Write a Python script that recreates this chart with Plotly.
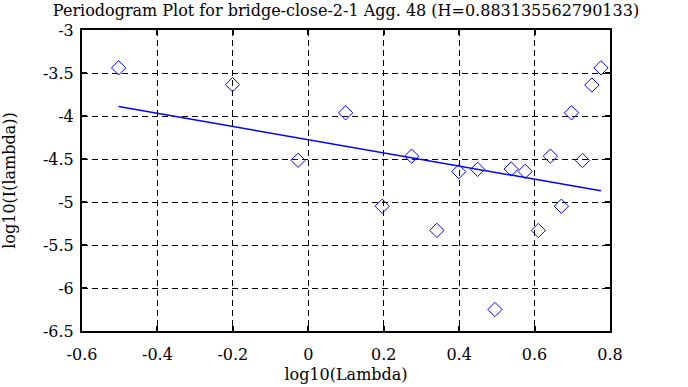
import plotly.graph_objects as go

# Periodogram points (log10 frequency vs log10 periodogram)
log_lambda = [-0.503, -0.201, -0.027, 0.099, 0.196, 0.274, 0.341, 0.399, 0.449, 0.495,
              0.538, 0.575, 0.610, 0.642, 0.671, 0.698, 0.727, 0.752, 0.776]
log_I = [-3.44, -3.635, -4.515, -3.963, -5.049, -4.467, -5.33, -4.647, -4.62, -6.25,
         -4.616, -4.644, -5.331, -4.467, -5.049, -3.963, -4.517, -3.64, -3.44]

# Fitted regression line endpoints
fit_x = [-0.503, 0.776]
fit_y = [-3.89, -4.87]

x_ticks = [-0.6, -0.4, -0.2, 0, 0.2, 0.4, 0.6, 0.8]
x_tick_text = ["-0.6", "-0.4", "-0.2", "0", "0.2", "0.4", "0.6", "0.8"]
y_ticks = [-6.5, -6, -5.5, -5, -4.5, -4, -3.5, -3]
y_tick_text = ["-6.5", "-6", "-5.5", "-5", "-4.5", "-4", "-3.5", "-3"]

title_text = "Periodogram Plot for bridge-close-2-1 Agg. 48 (H=0.883135562790133)"

font_family = "DejaVu Serif, Liberation Serif, serif"
fsize = 16

fig = go.Figure()
fig.add_trace(go.Scatter(
    x=log_lambda, y=log_I, mode="markers",
    marker=dict(symbol="diamond-open", size=11, color="#0000ff", line=dict(width=1, color="#0000ff")),
    showlegend=False, hoverinfo="skip"))
fig.add_trace(go.Scatter(
    x=fit_x, y=fit_y, mode="lines",
    line=dict(color="#0000ff", width=1.5),
    showlegend=False, hoverinfo="skip"))

axis_common = dict(
    showline=True, linecolor="black", linewidth=2, mirror="ticks",
    ticks="inside", ticklen=5, tickwidth=2, tickcolor="black",
    showgrid=True, gridcolor="black", gridwidth=1, griddash="6px,4px",
    zeroline=False, automargin=False,
    tickfont=dict(family=font_family, size=fsize, color="black"),
)

fig.update_layout(
    width=688, height=387,
    margin=dict(l=82, r=78, t=30, b=56),
    paper_bgcolor="white", plot_bgcolor="white",
    font=dict(family=font_family, size=fsize, color="black"),
    title=dict(text=title_text, x=0.5, xanchor="center", y=0.972, yanchor="middle",
               xref="paper",
               font=dict(family=font_family, size=fsize, color="black")),
    xaxis=dict(range=[-0.6, 0.8], tickvals=x_ticks, ticktext=x_tick_text,
               ticklabelstandoff=8,
               title=dict(text="log10(Lambda)", standoff=6,
                          font=dict(family=font_family, size=fsize)),
               **axis_common),
    yaxis=dict(range=[-6.5, -3], tickvals=y_ticks, ticktext=y_tick_text,
               ticklabelstandoff=3,
               title=dict(text="log10(I(lambda))", standoff=24,
                          font=dict(family=font_family, size=fsize)),
               **axis_common),
)

fig.write_html("out.html", config={"displayModeBar": False, "staticPlot": True},
               post_script="document.body.style.margin='0';")
